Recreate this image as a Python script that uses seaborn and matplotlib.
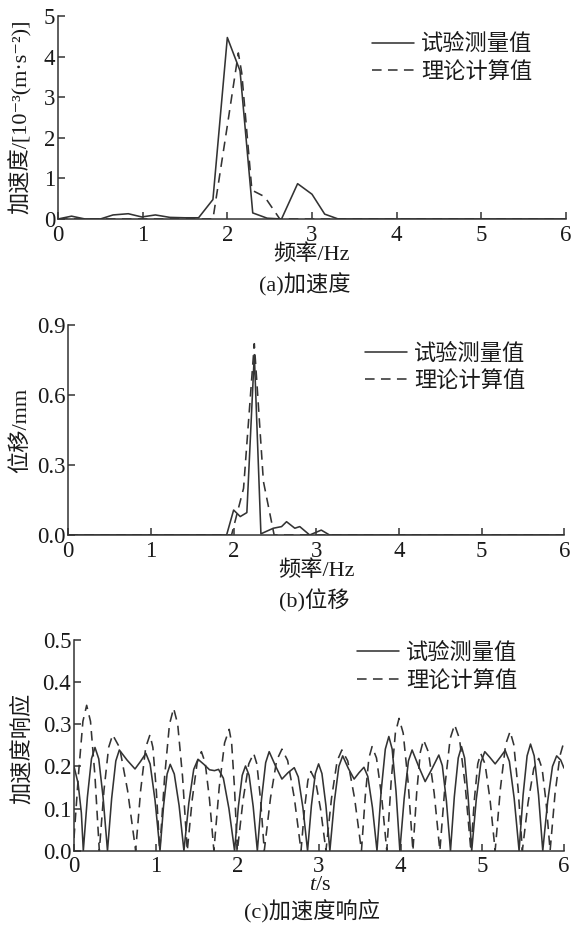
import matplotlib
matplotlib.use("Agg")
import matplotlib.pyplot as plt
import seaborn as sns

# ---------------- data ----------------
# (a) acceleration spectrum
freq_a_meas = [0.0, 0.16, 0.32, 0.5, 0.65, 0.83, 0.99, 1.15, 1.32, 1.5, 1.66, 1.83, 2.0, 2.15,
               2.3, 2.47, 2.64, 2.83, 3.0, 3.15, 3.31, 6.0]
acc_a_meas = [0.0, 0.07, 0.0, 0.0, 0.10, 0.13, 0.05, 0.10, 0.04, 0.03, 0.03, 0.48, 4.47, 3.65,
              0.15, 0.02, 0.0, 0.87, 0.61, 0.12, 0.0, 0.0]
freq_a_calc = [0.0, 1.83, 2.0, 2.13, 2.17, 2.29, 2.44, 2.62, 6.0]
acc_a_calc = [0.0, 0.0, 2.3, 4.09, 3.6, 0.71, 0.55, 0.0, 0.0]

# (b) displacement spectrum
freq_b_meas = [0.0, 1.915, 2.0, 2.08, 2.16, 2.25, 2.33, 2.48, 2.58, 2.64, 2.74, 2.80, 2.92,
               3.06, 3.16, 6.0]
disp_b_meas = [0.0, 0.0, 0.107, 0.079, 0.096, 0.773, 0.005, 0.029, 0.036, 0.057, 0.029, 0.036,
               0.0, 0.021, 0.0, 0.0]
freq_b_calc = [0.0, 1.975, 2.12, 2.25, 2.36, 2.49, 6.0]
disp_b_calc = [0.0, 0.0, 0.20, 0.82, 0.23, 0.0, 0.0]

# (c) acceleration response (time history)
t_meas = [0.0, 0.05, 0.09, 0.114,
          0.164, 0.214, 0.257, 0.303, 0.356, 0.41,
          0.461, 0.512, 0.555, 0.65, 0.747, 0.815, 0.88, 0.932, 0.992, 1.053,
          1.097, 1.14, 1.178, 1.228, 1.287, 1.346,
          1.406, 1.466, 1.518, 1.59, 1.66, 1.72, 1.77, 1.829, 1.897, 1.966,
          2.013, 2.06, 2.1, 2.144, 2.194, 2.245,
          2.296, 2.347, 2.39, 2.47, 2.546, 2.62, 2.697, 2.746, 2.803, 2.86,
          2.907, 2.955, 2.995, 3.036, 3.085, 3.133,
          3.188, 3.243, 3.29, 3.36, 3.43, 3.49, 3.55, 3.598, 3.654, 3.71,
          3.761, 3.812, 3.855, 3.896, 3.943, 3.99,
          4.043, 4.095, 4.14, 4.22, 4.3, 4.385, 4.467, 4.51, 4.56, 4.61,
          4.657, 4.705, 4.745, 4.783, 4.826, 4.87,
          4.926, 4.982, 5.03, 5.09, 5.157, 5.22, 5.28, 5.331, 5.39, 5.45,
          5.499, 5.548, 5.59, 5.635, 5.688, 5.74,
          5.8, 5.859, 5.91, 5.96, 6.0]
a_meas = [0.20, 0.16, 0.09, 0.0,
          0.127, 0.218, 0.245, 0.218, 0.127, 0.0,
          0.124, 0.213, 0.239, 0.215, 0.194, 0.212, 0.231, 0.206, 0.12, 0.0,
          0.107, 0.182, 0.205, 0.182, 0.107, 0.0,
          0.113, 0.193, 0.217, 0.205, 0.192, 0.19, 0.193, 0.172, 0.10, 0.0,
          0.105, 0.179, 0.201, 0.179, 0.105, 0.0,
          0.122, 0.209, 0.235, 0.20, 0.17, 0.185, 0.197, 0.175, 0.102, 0.0,
          0.107, 0.183, 0.206, 0.183, 0.107, 0.0,
          0.117, 0.2, 0.225, 0.195, 0.17, 0.185, 0.198, 0.176, 0.103, 0.0,
          0.141, 0.241, 0.271, 0.241, 0.141, 0.0,
          0.124, 0.213, 0.239, 0.2, 0.164, 0.195, 0.227, 0.202, 0.118, 0.0,
          0.128, 0.22, 0.247, 0.22, 0.128, 0.0,
          0.122, 0.209, 0.235, 0.222, 0.206, 0.222, 0.238, 0.212, 0.124, 0.0,
          0.132, 0.225, 0.253, 0.225, 0.132, 0.0,
          0.117, 0.2, 0.225, 0.215, 0.196]

t_calc = [0.0, 0.054, 0.109, 0.155, 0.202, 0.256, 0.31,
          0.367, 0.424, 0.473, 0.558, 0.656, 0.755,
          0.816, 0.878, 0.93, 0.966, 1.008, 1.05,
          1.11, 1.169, 1.22, 1.27, 1.329, 1.387,
          1.448, 1.508, 1.56, 1.606, 1.659, 1.713,
          1.778, 1.844, 1.9, 1.93, 1.965, 2.0,
          2.07, 2.14, 2.2, 2.239, 2.285, 2.33,
          2.406, 2.481, 2.546, 2.616, 2.698, 2.78,
          2.822, 2.864, 2.9, 2.956, 3.02, 3.085,
          3.153, 3.222, 3.28, 3.352, 3.436, 3.52,
          3.566, 3.611, 3.65, 3.704, 3.767, 3.83,
          3.883, 3.935, 3.98, 4.031, 4.091, 4.15,
          4.196, 4.241, 4.28, 4.34, 4.41, 4.48,
          4.543, 4.606, 4.66, 4.72, 4.79, 4.86,
          4.902, 4.944, 4.98, 5.033, 5.095, 5.157,
          5.221, 5.285, 5.34, 5.385, 5.438, 5.49,
          5.56, 5.63, 5.69, 5.732, 5.781, 5.83,
          5.89, 5.95, 6.0]
a_calc = [0.03, 0.179, 0.307, 0.345, 0.307, 0.179, 0.0,
          0.143, 0.245, 0.275, 0.245, 0.143, 0.0,
          0.143, 0.245, 0.275, 0.245, 0.143, 0.0,
          0.176, 0.30, 0.338, 0.30, 0.176, 0.0,
          0.122, 0.209, 0.235, 0.209, 0.122, 0.0,
          0.15, 0.256, 0.288, 0.256, 0.15, 0.0,
          0.12, 0.206, 0.231, 0.206, 0.12, 0.0,
          0.125, 0.214, 0.241, 0.214, 0.125, 0.0,
          0.098, 0.167, 0.188, 0.167, 0.098, 0.0,
          0.124, 0.213, 0.239, 0.213, 0.124, 0.0,
          0.128, 0.22, 0.247, 0.22, 0.128, 0.0,
          0.163, 0.279, 0.314, 0.279, 0.163, 0.0,
          0.137, 0.234, 0.263, 0.234, 0.137, 0.0,
          0.155, 0.266, 0.299, 0.266, 0.155, 0.0,
          0.12, 0.206, 0.231, 0.206, 0.12, 0.0,
          0.147, 0.252, 0.283, 0.252, 0.147, 0.0,
          0.114, 0.195, 0.219, 0.195, 0.114, 0.0,
          0.135, 0.225, 0.259]

x_ticks = [0, 1, 2, 3, 4, 5, 6]
y_ticks_a = [0, 1, 2, 3, 4, 5]
y_ticks_b = [0.0, 0.3, 0.6, 0.9]
y_ticks_c = [0.0, 0.1, 0.2, 0.3, 0.4, 0.5]

label_meas = "试验测量值"
label_calc = "理论计算值"

# ---------------- style ----------------
sns.set_theme(style="ticks")
plt.rcParams["font.family"] = ["Liberation Serif", "Noto Sans CJK SC", "DejaVu Sans"]
plt.rcParams["mathtext.fontset"] = "custom"
plt.rcParams["mathtext.rm"] = "Liberation Serif"
plt.rcParams["mathtext.it"] = "Liberation Serif:italic"
plt.rcParams["axes.unicode_minus"] = False

W, H = 572, 927
fig = plt.figure(figsize=(W / 100, H / 100), dpi=100)
fig.patch.set_facecolor("white")

LC = "#333333"
TC = "#1a1a1a"
FS = 16
FS_TICK = 16.5
LW = 1.15
DASH = (0, (6, 4))


def px_axes(left, right, top, bottom):
    return fig.add_axes([left / W, 1 - bottom / H, (right - left) / W, (bottom - top) / H])


def style_axes(ax, yticks, ylim, yfmt):
    ax.set_xlim(0, 6)
    ax.set_ylim(*ylim)
    ax.set_xticks(x_ticks)
    ax.set_xticklabels([str(v) for v in x_ticks])
    ax.set_yticks(yticks)
    ax.set_yticklabels([yfmt.format(v) for v in yticks])
    ax.tick_params(direction="in", length=5, width=1.1, colors=LC, labelsize=FS_TICK,
                   labelcolor=TC, pad=2)
    ax.tick_params(axis="x", pad=4)
    sns.despine(ax=ax)
    for s in ("left", "bottom"):
        ax.spines[s].set_linewidth(1.1)
        ax.spines[s].set_color(LC)
    ax.set_xlabel("")
    ax.set_ylabel("")
    ax.set_facecolor("white")


def add_legend(ax, x, y):
    ax.legend(loc="upper left", bbox_to_anchor=(x, y), frameon=False, fontsize=FS,
              handlelength=1.9, handletextpad=0.3, labelspacing=0.28, borderpad=0,
              borderaxespad=0, labelcolor=TC)


def draw(ax, x1, y1, x2, y2):
    sns.lineplot(x=x1, y=y1, ax=ax, color=LC, lw=LW, label=label_meas,
                 estimator=None, sort=False)
    sns.lineplot(x=x2, y=y2, ax=ax, color=LC, lw=LW, label=label_calc,
                 estimator=None, sort=False, linestyle=DASH)


# (a)
ax_a = px_axes(58, 566, 16, 219)
draw(ax_a, freq_a_meas, acc_a_meas, freq_a_calc, acc_a_calc)
style_axes(ax_a, y_ticks_a, (0, 5), "{:d}")
add_legend(ax_a, 0.618, 0.91)

# (b)
ax_b = px_axes(68.3, 564.3, 325, 535)
draw(ax_b, freq_b_meas, disp_b_meas, freq_b_calc, disp_b_calc)
style_axes(ax_b, y_ticks_b, (0, 0.9), "{:.1f}")
add_legend(ax_b, 0.598, 0.91)

# (c)
ax_c = px_axes(74, 564, 640, 850.7)
draw(ax_c, t_meas, a_meas, t_calc, a_calc)
style_axes(ax_c, y_ticks_c, (0, 0.5), "{:.1f}")
add_legend(ax_c, 0.578, 0.985)


def ftext(x, y, s, **kw):
    fig.text(x / W, 1 - y / H, s, ha="center", va="center", fontsize=FS, color=TC, **kw)


ftext(20, 117, "加速度/[10⁻³(m·s⁻²)]", rotation=90)
ftext(311, 255, "频率/Hz")
ftext(305, 285, "(a)加速度")

ftext(21, 430, "位移/mm", rotation=90)
ftext(316, 571, "频率/Hz")
ftext(314, 601, "(b)位移")

ftext(22, 748, "加速度响应", rotation=90)
ftext(320, 885, "$t$/s")
ftext(312, 911, "(c)加速度响应")

fig.savefig("out.png", dpi=100, facecolor="white")
